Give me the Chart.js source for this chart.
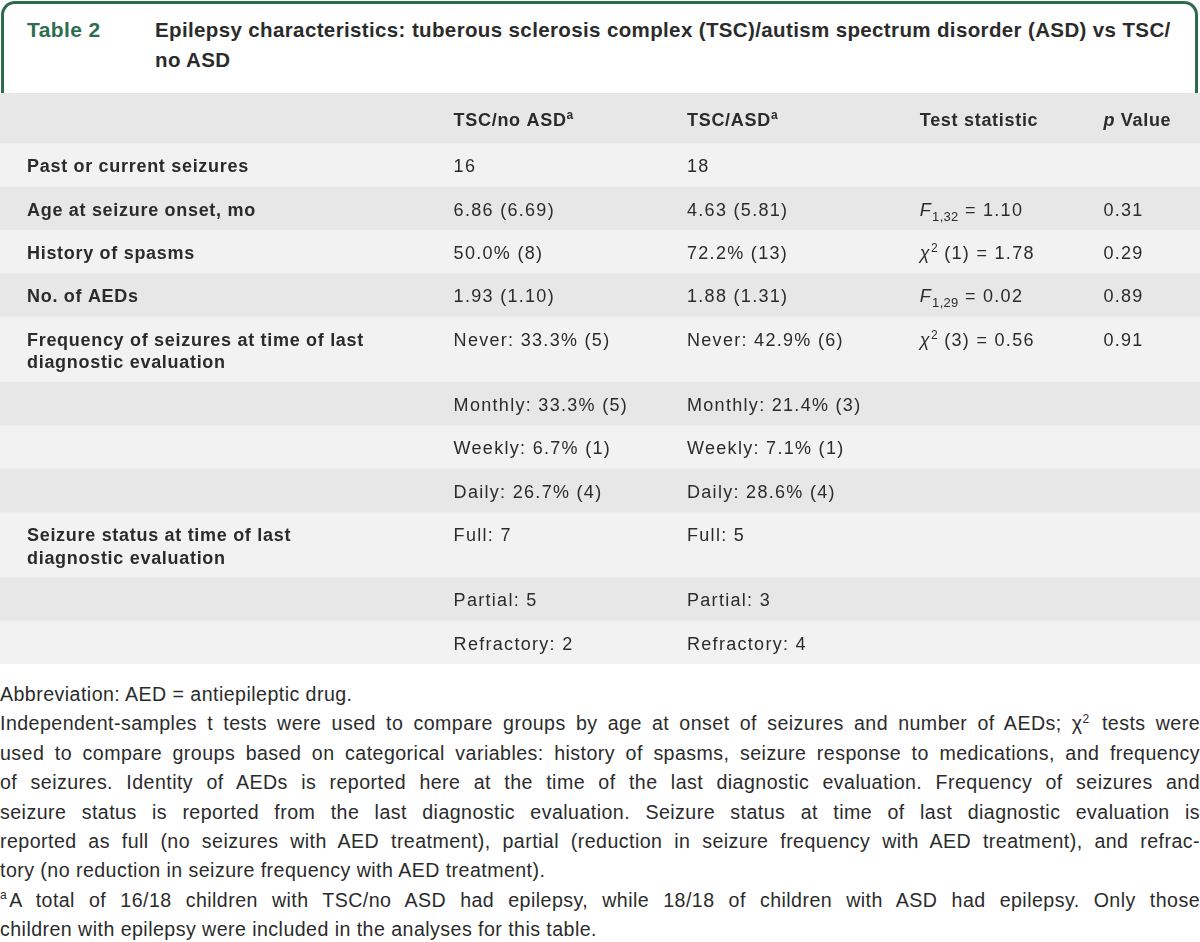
<!DOCTYPE html>
<html>
<head>
<meta charset="utf-8">
<script src="https://cdn.jsdelivr.net/npm/chart.js@4.4.1/dist/chart.umd.min.js"></script>
<style>
	html, body { margin: 0; padding: 0; background: #ffffff; }
	body { width: 1200px; height: 942px; position: relative; overflow: hidden; font-family: "Liberation Sans", Arial, sans-serif; color: #2b2b2b; }
	#headBox { position: absolute; left: 1px; top: 1px; width: 1197px; height: 92px; box-sizing: border-box;
		border: 3px solid #2e6b4d; border-bottom: none; border-radius: 14px 14px 0 0; }
	#tabNo { position: absolute; left: 27px; top: 15px; font: bold 21px/30px "Liberation Sans", Arial, sans-serif; color: #2e6e50; letter-spacing: 0.4px; }
	#tabTitle { position: absolute; left: 155px; top: 15px; width: 1040px; font: bold 20.5px/30px "Liberation Sans", Arial, sans-serif; color: #2b2b2b; letter-spacing: 0.37px; white-space: nowrap; }
	#tableWrap { position: absolute; left: 0; top: 93px; width: 1200px; height: 571px; }
	#notes { position: absolute; left: 0; top: 680px; width: 1200px; font-size: 19.6px; line-height: 29.4px; color: #2b2b2b; letter-spacing: 0.45px; }
	#notes div { white-space: nowrap; }
	#notes div.j { text-align: justify; text-align-last: justify; white-space: normal; }
	sup { font-size: 12px; line-height: 0; margin-right: 2px; }
</style>
</head>
<body>
<div id="headBox"></div>
<div id="tabNo">Table 2</div>
<div id="tabTitle">Epilepsy characteristics: tuberous sclerosis complex (TSC)/autism spectrum disorder (ASD) vs TSC/<br>no ASD</div>

<div id="tableWrap"><canvas id="epiTable" width="1200" height="571"></canvas></div>

<div id="notes">
	<div>Abbreviation: AED = antiepileptic drug.</div>
	<div class="j">Independent-samples t tests were used to compare groups by age at onset of seizures and number of AEDs; χ<sup>2</sup> tests were</div>
	<div class="j">used to compare groups based on categorical variables: history of spasms, seizure response to medications, and frequency</div>
	<div class="j">of seizures. Identity of AEDs is reported here at the time of the last diagnostic evaluation. Frequency of seizures and</div>
	<div class="j">seizure status is reported from the last diagnostic evaluation. Seizure status at time of last diagnostic evaluation is</div>
	<div class="j">reported as full (no seizures with AED treatment), partial (reduction in seizure frequency with AED treatment), and refrac-</div>
	<div>tory (no reduction in seizure frequency with AED treatment).</div>
	<div class="j"><sup>a</sup>A total of 16/18 children with TSC/no ASD had epilepsy, while 18/18 of children with ASD had epilepsy. Only those</div>
	<div>children with epilepsy were included in the analyses for this table.</div>
</div>

<script>
// table content
var columns = ['', 'TSC/no ASD^{a}', 'TSC/ASD^{a}', 'Test statistic', '*p* Value'];
var rowLabels = [
	'Past or current seizures',
	'Age at seizure onset, mo',
	'History of spasms',
	'No. of AEDs',
	'Frequency of seizures at time of last\ndiagnostic evaluation',
	'', '', '',
	'Seizure status at time of last\ndiagnostic evaluation',
	'', ''
];
var noAsd = ['16', '6.86 (6.69)', '50.0% (8)', '1.93 (1.10)', 'Never: 33.3% (5)', 'Monthly: 33.3% (5)', 'Weekly: 6.7% (1)', 'Daily: 26.7% (4)', 'Full: 7', 'Partial: 5', 'Refractory: 2'];
var withAsd = ['18', '4.63 (5.81)', '72.2% (13)', '1.88 (1.31)', 'Never: 42.9% (6)', 'Monthly: 21.4% (3)', 'Weekly: 7.1% (1)', 'Daily: 28.6% (4)', 'Full: 5', 'Partial: 3', 'Refractory: 4'];
var testStat = ['', '*F*_{1,32} = 1.10', '*χ*^{2} (1) = 1.78', '*F*_{1,29} = 0.02', '*χ*^{2} (3) = 0.56', '', '', '', '', '', ''];
var pValue = ['', '0.31', '0.29', '0.89', '0.91', '', '', '', '', '', ''];

// layout options (in table units / percent of width)
var HEADER_UNITS = 1.15;
var DOUBLE_UNITS = 1.5;
var COL_X = [2.25, 37.8, 57.25, 76.65, 91.95];
var HEADER_BG = '#e6e7e6';
var ROW_BG = ['#f2f2f2', '#e6e7e6'];
var TEXT_COLOR = '#2b2b2b';

function rowUnits(label) {
	return label.indexOf('\n') >= 0 ? DOUBLE_UNITS : 1;
}

// split "*it*", "_{sub}", "^{sup}" markup into pieces
function parseRich(str) {
	var re = /\*([^*]+)\*|_\{([^}]+)\}|\^\{([^}]+)\}|([^*_^]+)/g;
	var parts = [], m;
	while ((m = re.exec(str)) !== null) {
		if (m[1]) parts.push({ t: m[1], k: 'i' });
		else if (m[2]) parts.push({ t: m[2], k: 'sub' });
		else if (m[3]) parts.push({ t: m[3], k: 'sup' });
		else parts.push({ t: m[4], k: 'n' });
	}
	return parts;
}

function drawRich(ctx, str, x, y, bold) {
	var w = bold ? 'bold ' : '';
	parseRich(str).forEach(function (p) {
		var size = 18, dy = 0, style = '';
		if (p.k === 'sub') { size = 13; dy = 5; }
		if (p.k === 'sup') { size = 12; dy = -7; }
		if (p.k === 'i') { style = 'italic '; }
		ctx.font = style + w + size + 'px "Liberation Sans", Arial, sans-serif';
		ctx.letterSpacing = bold ? '0.7px' : (size < 18 ? '0.3px' : '1.3px');
		ctx.fillText(p.t, x, y + dy);
		x += ctx.measureText(p.t).width;
	});
}

var cellText = {
	id: 'cellText',
	afterDatasetsDraw: function (chart) {
		var ctx = chart.ctx;
		var colScale = chart.scales.col;
		var yScale = chart.scales.y;
		var unit = Math.abs(yScale.getPixelForValue(1) - yScale.getPixelForValue(0));
		ctx.save();
		ctx.fillStyle = TEXT_COLOR;
		ctx.textBaseline = 'alphabetic';
		ctx.textAlign = 'left';

		// header row
		var head = chart.getDatasetMeta(0).data[0];
		var headTop = Math.min(head.y, head.base);
		var headMid = headTop + Math.abs(head.base - head.y) / 2;
		columns.forEach(function (c, ci) {
			if (c) drawRich(ctx, c, colScale.getPixelForValue(COL_X[ci]), headMid + 8.5, true);
		});

		// body rows
		rowLabels.forEach(function (label, ri) {
			var el = chart.getDatasetMeta(ri + 1).data[0];
			var top = Math.min(el.y, el.base);
			var base = top + unit * 0.5 + 7.5;
			label.split('\n').forEach(function (line, li) {
				if (line) drawRich(ctx, line, colScale.getPixelForValue(COL_X[0]), base + li * 22.5, true);
			});
			[noAsd, withAsd, testStat, pValue].forEach(function (arr, ci) {
				if (arr[ri]) drawRich(ctx, arr[ri], colScale.getPixelForValue(COL_X[ci + 1]), base, false);
			});
		});
		ctx.restore();
	}
};

// each row is one stacked segment of a single full-width bar
var datasets = [{
	label: 'header',
	data: [HEADER_UNITS],
	backgroundColor: HEADER_BG
}];
rowLabels.forEach(function (label, i) {
	datasets.push({
		label: 'row' + i,
		data: [rowUnits(label)],
		backgroundColor: ROW_BG[i % 2]
	});
});
var totalUnits = datasets.reduce(function (s, d) { return s + d.data[0]; }, 0);

var epiChart = new Chart(document.getElementById('epiTable'), {
	type: 'bar',
	data: { labels: ['table'], datasets: datasets },
	options: {
		responsive: false,
		animation: false,
		layout: { padding: 0 },
		datasets: {
			bar: { barPercentage: 1, categoryPercentage: 1, borderWidth: 0, borderSkipped: false }
		},
		plugins: {
			legend: { display: false },
			tooltip: { enabled: false },
			title: { display: false }
		},
		scales: {
			x: { stacked: true, display: false, grid: { display: false } },
			col: { type: 'linear', axis: 'x', min: 0, max: 100, offset: false, display: false },
			y: { stacked: true, reverse: true, min: 0, max: totalUnits, display: false, grid: { display: false } }
		}
	},
	plugins: [cellText]
});
</script>
</body>
</html>
